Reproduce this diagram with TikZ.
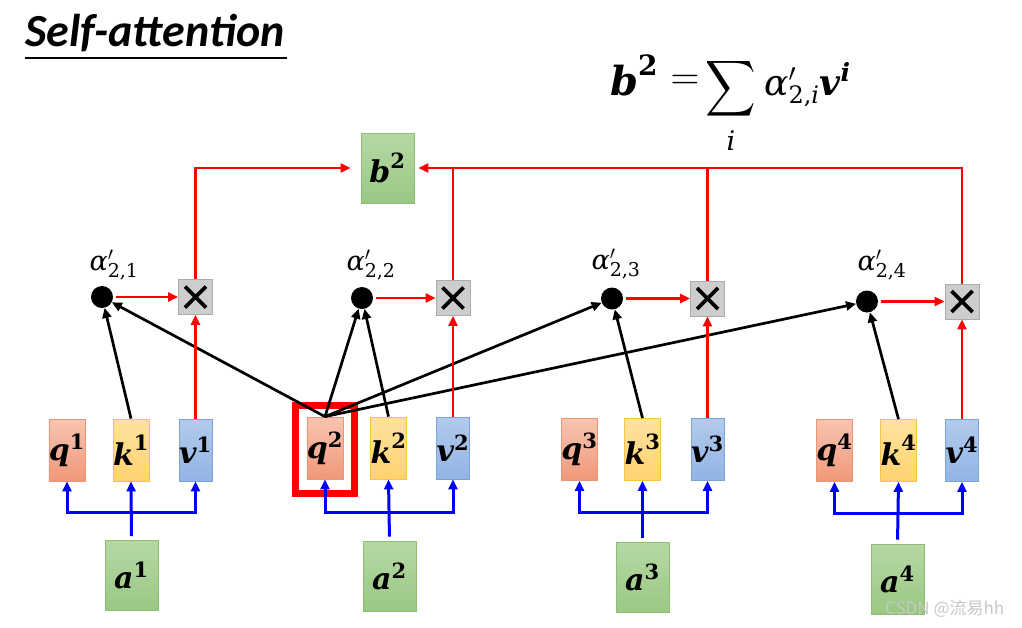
\RequirePackage{fix-cm}
\documentclass[tikz,border=0pt]{standalone}
\usepackage{fontspec}
\usetikzlibrary{arrows.meta,calc}
\newfontfamily\djv{DejaVu Serif}
\newfontfamily\ttlfont{Carlito}
\newfontfamily\cjk{Noto Sans CJK SC}
\definecolor{qtop}{RGB}{248,196,176}
\definecolor{qbot}{RGB}{240,152,122}
\definecolor{qbd}{RGB}{232,150,120}
\definecolor{ktop}{RGB}{255,226,160}
\definecolor{kbot}{RGB}{255,210,110}
\definecolor{kbd}{RGB}{246,196,70}
\definecolor{vtop}{RGB}{178,202,236}
\definecolor{vbot}{RGB}{146,180,228}
\definecolor{vbd}{RGB}{126,164,214}
\definecolor{gtop}{RGB}{182,216,164}
\definecolor{gbot}{RGB}{154,200,132}
\definecolor{gbd}{RGB}{140,190,118}
\definecolor{mulfill}{RGB}{205,205,205}
\definecolor{mulbd}{RGB}{172,172,172}
\newcommand\vlab[2]{\fontsize{30}{32}\selectfont$\hbox{\djv\bfseries\itshape #1}^{\hbox{\djv\bfseries\fontsize{21}{22}\selectfont #2}}$}
\newcommand\alab[1]{\fontsize{27}{29}\selectfont$\hbox{\djv\itshape α}^{\prime}_{\hbox{\djv\fontsize{19}{20}\selectfont 2,#1}}$}
\tikzset{
  x=1pt, y=-1pt,
  box/.style={draw, line width=0.8pt, minimum width=33pt, minimum height=62pt, inner sep=0pt},
  qbox/.style={box, top color=qtop, bottom color=qbot, draw=qbd},
  kbox/.style={box, top color=ktop, bottom color=kbot, draw=kbd},
  vbox/.style={box, top color=vtop, bottom color=vbot, draw=vbd},
  gbox/.style={draw=gbd, line width=0.8pt, top color=gtop, bottom color=gbot, minimum width=53pt, minimum height=70pt, inner sep=0pt},
  dotn/.style={circle, fill=black, minimum size=22pt, inner sep=0pt},
  mul/.style={draw=mulbd, fill=mulfill, line width=0.8pt, minimum width=34pt, minimum height=35pt, inner sep=0pt,
    path picture={
      \draw[black, line width=3.6pt] ([shift={(-10.5pt,-10.5pt)}]path picture bounding box.center) -- ([shift={(10.5pt,10.5pt)}]path picture bounding box.center);
      \draw[black, line width=3.6pt] ([shift={(-10.5pt,10.5pt)}]path picture bounding box.center) -- ([shift={(10.5pt,-10.5pt)}]path picture bounding box.center);
    }},
  tip/.style={-{Triangle[length=10pt,width=9pt]}},
  rline/.style={draw=red, line width=2.7pt},
  rarr/.style={rline, tip},
  barr/.style={draw=black, line width=2.7pt, tip},
  blarr/.style={draw=blue, line width=3pt, tip},
  ftxt/.style={inner sep=0pt},
}
\begin{document}
\begin{tikzpicture}
\useasboundingbox (0,0) rectangle (1022,627);
% title
\node[anchor=base west, inner sep=0pt] (title) at (25,46) {\ttlfont\bfseries\itshape\fontsize{46}{50}\selectfont Self-attention};
\draw[line width=1.2pt] (25,58) -- (287,58);
% formula
\node[ftxt, anchor=base west] (fb) at (610,95) {\fontsize{40}{44}\selectfont$\hbox{\djv\bfseries\itshape b}^{\hbox{\djv\bfseries\fontsize{28}{30}\selectfont 2}}$};
\node[ftxt] (feq) at (685,82) {\fontsize{40}{44}\selectfont$=$};
\node[ftxt] (fsum) at (731,89) {\scalebox{3.5}[3.9]{$\displaystyle\sum$}};
\node[ftxt] (fi) at (731,141) {\djv\itshape\fontsize{27}{30}\selectfont i};
\node[ftxt, anchor=base west] (fav) at (764,95) {\fontsize{36}{40}\selectfont$\hbox{\djv\itshape α}^{\prime}_{\hbox{\djv\fontsize{24}{26}\selectfont 2,\itshape i}}\hbox{\djv\bfseries\itshape v}^{\hbox{\djv\bfseries\itshape\fontsize{25}{27}\selectfont i}}$};
% q k v boxes
\node[qbox] (q1) at (67,450) {\vlab{q}{1}};
\node[kbox] (k1) at (131,450) {\vlab{k}{1}};
\node[vbox] (v1) at (195.5,450) {\vlab{v}{1}};
\node[qbox] (q2) at (325,448) {\vlab{q}{2}};
\node[kbox] (k2) at (388.5,448) {\vlab{k}{2}};
\node[vbox] (v2) at (453,448) {\vlab{v}{2}};
\node[qbox] (q3) at (579.5,449.5) {\vlab{q}{3}};
\node[kbox] (k3) at (642.5,449.5) {\vlab{k}{3}};
\node[vbox] (v3) at (707.5,449.5) {\vlab{v}{3}};
\node[qbox] (q4) at (834.5,450.5) {\vlab{q}{4}};
\node[kbox] (k4) at (898.5,450.5) {\vlab{k}{4}};
\node[vbox] (v4) at (962,450.5) {\vlab{v}{4}};
% highlight
\node[draw=red, line width=7pt, minimum width=59pt, minimum height=88pt, inner sep=0pt] (hl) at (325,449.5) {};
% inputs
\node[gbox] (a1) at (131.5,575.5) {\vlab{a}{1}};
\node[gbox] (a2) at (389.5,576) {\vlab{a}{2}};
\node[gbox] (a3) at (642.5,577.5) {\vlab{a}{3}};
\node[gbox] (a4) at (897.5,579) {\vlab{a}{4}};
% output
\node[gbox] (b2) at (387.5,168) {\vlab{b}{2}};
% attention dots
\node[dotn] (d1) at (102,297) {};
\node[dotn] (d2) at (362,298) {};
\node[dotn] (d3) at (612,298.5) {};
\node[dotn] (d4) at (867,301.5) {};
\node (l1) at (114,265) {\alab{1}};
\node (l2) at (371,265) {\alab{2}};
\node (l3) at (616,264) {\alab{3}};
\node (l4) at (882,265) {\alab{4}};
% multiply boxes
\node[mul] (m1) at (195.5,297) {};
\node[mul] (m2) at (453,298) {};
\node[mul] (m3) at (707.5,298.5) {};
\node[mul] (m4) at (962,301.5) {};
% blue input arrows
\foreach \i/\y in {1/512,2/512,3/512,4/513}{
  \coordinate (j\i) at (a\i.north |- 0,\y);
  \draw[blarr, shorten <=4pt] (a\i.north) -- (k\i.south);
  \draw[blarr] (j\i) -| (q\i.south);
  \draw[blarr] (j\i) -| (v\i.south);
}
% black score arrows
\draw[barr] (k1.north) -- (d1);
\draw[barr] (q2.north) -- (d1);
\draw[barr] (q2.north) -- (d2);
\draw[barr] (k2.north) -- (d2);
\draw[barr] (q2.north) -- (d3);
\draw[barr] (k3.north) -- (d3);
\draw[barr] (q2.north) -- (d4);
\draw[barr] (k4.north) -- (d4);
% red weighting arrows
\foreach \i in {1,2,3,4}{
  \draw[rarr, shorten <=3pt] (d\i) -- (m\i);
  \draw[rarr] (v\i.north) -- (m\i.south);
}
\draw[rarr, shorten >=10pt] (m1.north) |- (b2.west);
\draw[rarr, shorten >=4pt] (m4.north) |- (b2.east);
\draw[rline] (m2.north) -- (m2.north |- b2.east);
\draw[rline] (m3.north) -- (m3.north |- b2.east);
% watermark
\node[anchor=base west, inner sep=0pt, text=black!22] (wm) at (885,614) {\cjk\fontsize{17}{20}\selectfont CSDN @流易hh};
\end{tikzpicture}
\end{document}
